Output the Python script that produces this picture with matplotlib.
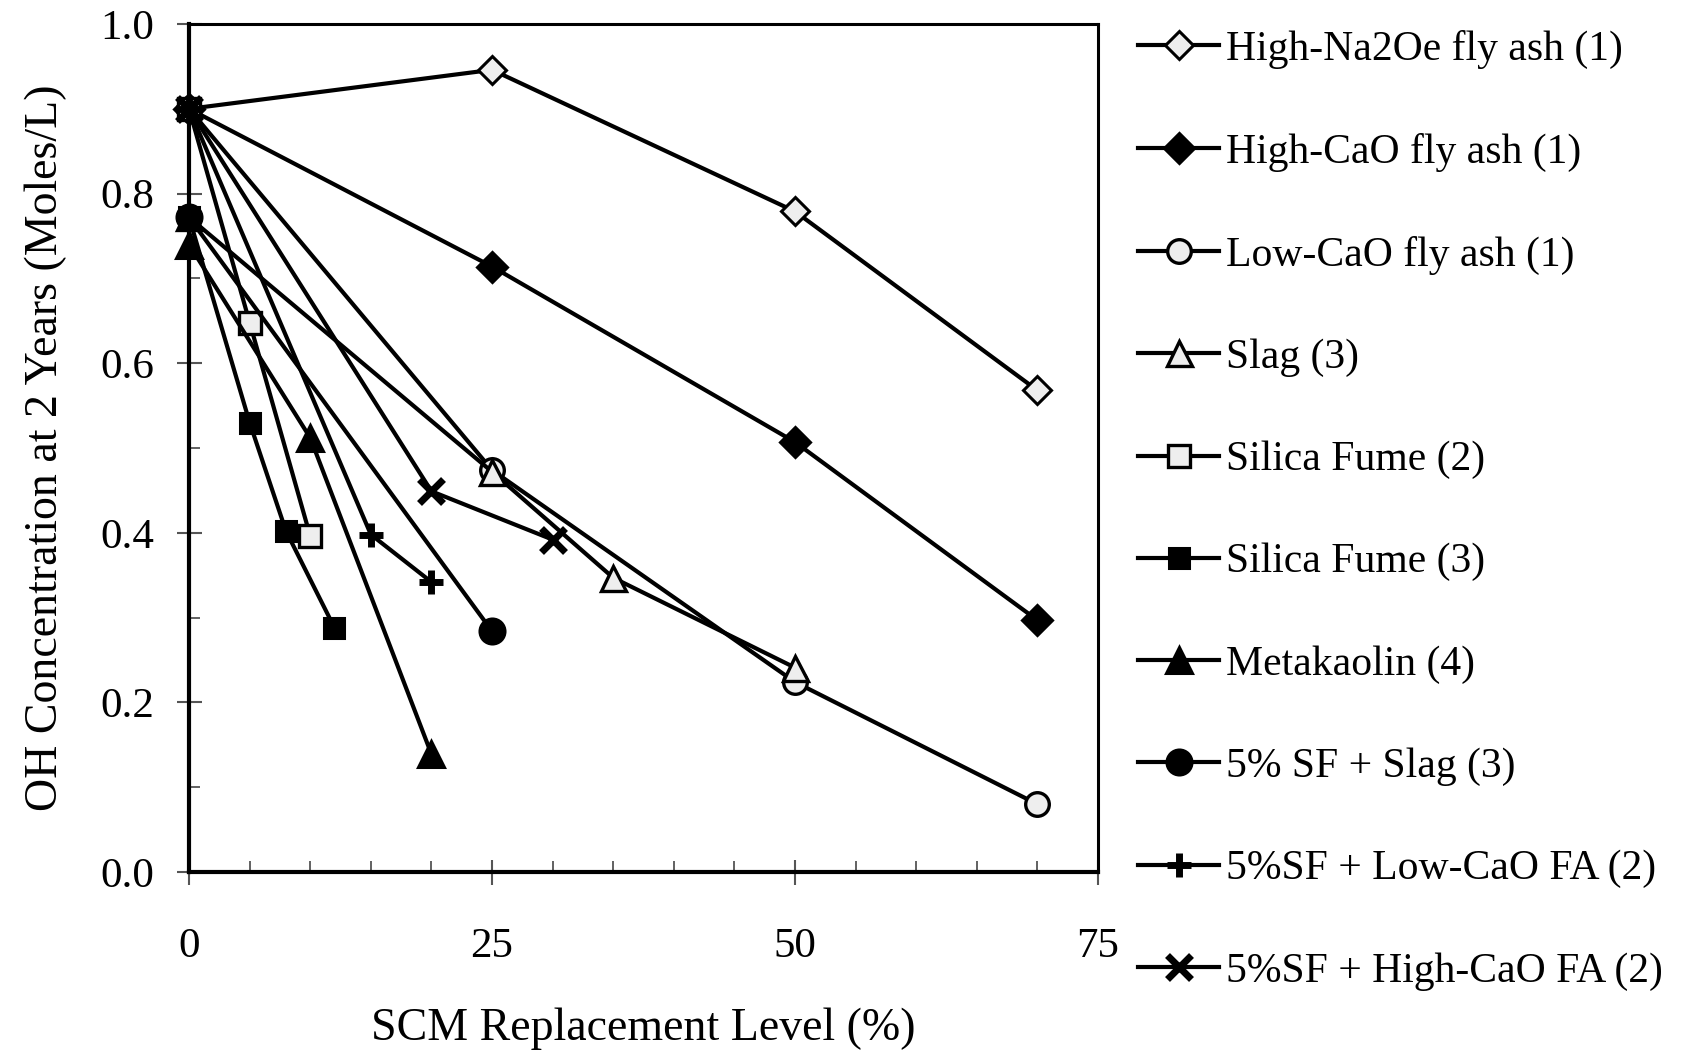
import matplotlib
matplotlib.use("Agg")
import matplotlib.pyplot as plt
from matplotlib.ticker import MultipleLocator

plt.rcParams['font.family'] = ['Liberation Serif', 'DejaVu Serif']

# ---- data ----
labels = ["High-Na2Oe fly ash (1)", "High-CaO fly ash (1)", "Low-CaO fly ash (1)",
          "Slag (3)", "Silica Fume (2)", "Silica Fume (3)", "Metakaolin (4)",
          "5% SF + Slag (3)", "5%SF + Low-CaO FA (2)", "5%SF + High-CaO FA (2)"]

x_na2oe = [0, 25, 50, 70]
y_na2oe = [0.900, 0.946, 0.779, 0.568]
x_hcao = [0, 25, 50, 70]
y_hcao = [0.900, 0.714, 0.507, 0.297]
x_lcao = [0, 25, 50, 70]
y_lcao = [0.900, 0.474, 0.224, 0.080]
x_slag = [0, 25, 35, 50]
y_slag = [0.772, 0.472, 0.347, 0.241]
x_sf2 = [0, 5, 10]
y_sf2 = [0.900, 0.648, 0.396]
x_sf3 = [0, 5, 8, 12]
y_sf3 = [0.772, 0.530, 0.402, 0.288]
x_mk = [0, 10, 20]
y_mk = [0.740, 0.512, 0.139]
x_sfslag = [0, 25]
y_sfslag = [0.772, 0.284]
x_sflca = [0, 15, 20]
y_sflca = [0.900, 0.398, 0.342]
x_sfhca = [0, 20, 30]
y_sfhca = [0.900, 0.449, 0.392]

xs = [x_na2oe, x_hcao, x_lcao, x_slag, x_sf2, x_sf3, x_mk, x_sfslag, x_sflca, x_sfhca]
ys = [y_na2oe, y_hcao, y_lcao, y_slag, y_sf2, y_sf3, y_mk, y_sfslag, y_sflca, y_sfhca]

xticks = [0, 25, 50, 75]
yticks = [0.0, 0.2, 0.4, 0.6, 0.8, 1.0]

light = '#eeeeee'
styles = [
    dict(marker='D', ms=14, mfc=light, mew=2.2),
    dict(marker='D', ms=15, mfc='black', mew=2.2),
    dict(marker='o', ms=17, mfc=light, mew=2.4),
    dict(marker='^', ms=18, mfc=light, mew=2.4),
    dict(marker='s', ms=16, mfc=light, mew=2.4),
    dict(marker='s', ms=14, mfc='black', mew=2.2),
    dict(marker='^', ms=19, mfc='black', mew=2.2),
    dict(marker='o', ms=18, mfc='black', mew=2.2),
    dict(marker='+', ms=17, mfc='black', mew=5.0),
    dict(marker='x', ms=17, mfc='black', mew=5.0),
]

fig = plt.figure(figsize=(16.82, 10.5), dpi=100)
ax = fig.add_axes([0.1124, 0.1695, 0.6528 - 0.1124, 0.9771 - 0.1695])

for x, y, lab, st in zip(xs, ys, labels, styles):
    ax.plot(x, y, color='black', lw=3.0, mec='black', label=lab, clip_on=False, **st)

ax.set_xlim(0, 75)
ax.set_ylim(0, 1.0)
ax.set_xticks(xticks)
ax.set_yticks(yticks)
ax.set_yticklabels([f"{v:.1f}" for v in yticks])
ax.xaxis.set_minor_locator(MultipleLocator(5))
ax.yaxis.set_minor_locator(MultipleLocator(0.1))

ax.tick_params(axis='both', which='major', direction='inout', length=18, width=1.5,
               color='#555555', labelsize=31)
ax.tick_params(axis='y', which='major', pad=16)
ax.tick_params(axis='x', which='major', pad=31)
ax.tick_params(axis='both', which='minor', direction='in', length=8, width=1.3, color='#555555')

for side in ['left', 'bottom']:
    ax.spines[side].set_linewidth(3.0)
for side in ['top', 'right']:
    ax.spines[side].set_linewidth(2.2)

ax.set_xlabel("SCM Replacement Level (%)", fontsize=33, labelpad=30)
ax.set_ylabel("OH Concentration at 2 Years (Moles/L)", fontsize=33, labelpad=24)

leg = ax.legend(loc='upper left', bbox_to_anchor=(1138 / 1682, 1 - 30 / 1050),
                bbox_transform=fig.transFigure, frameon=False, fontsize=30,
                handlelength=1.95, handletextpad=0.15, labelspacing=1.53,
                borderaxespad=0, borderpad=0)

fig.savefig("out.png", dpi=100)
